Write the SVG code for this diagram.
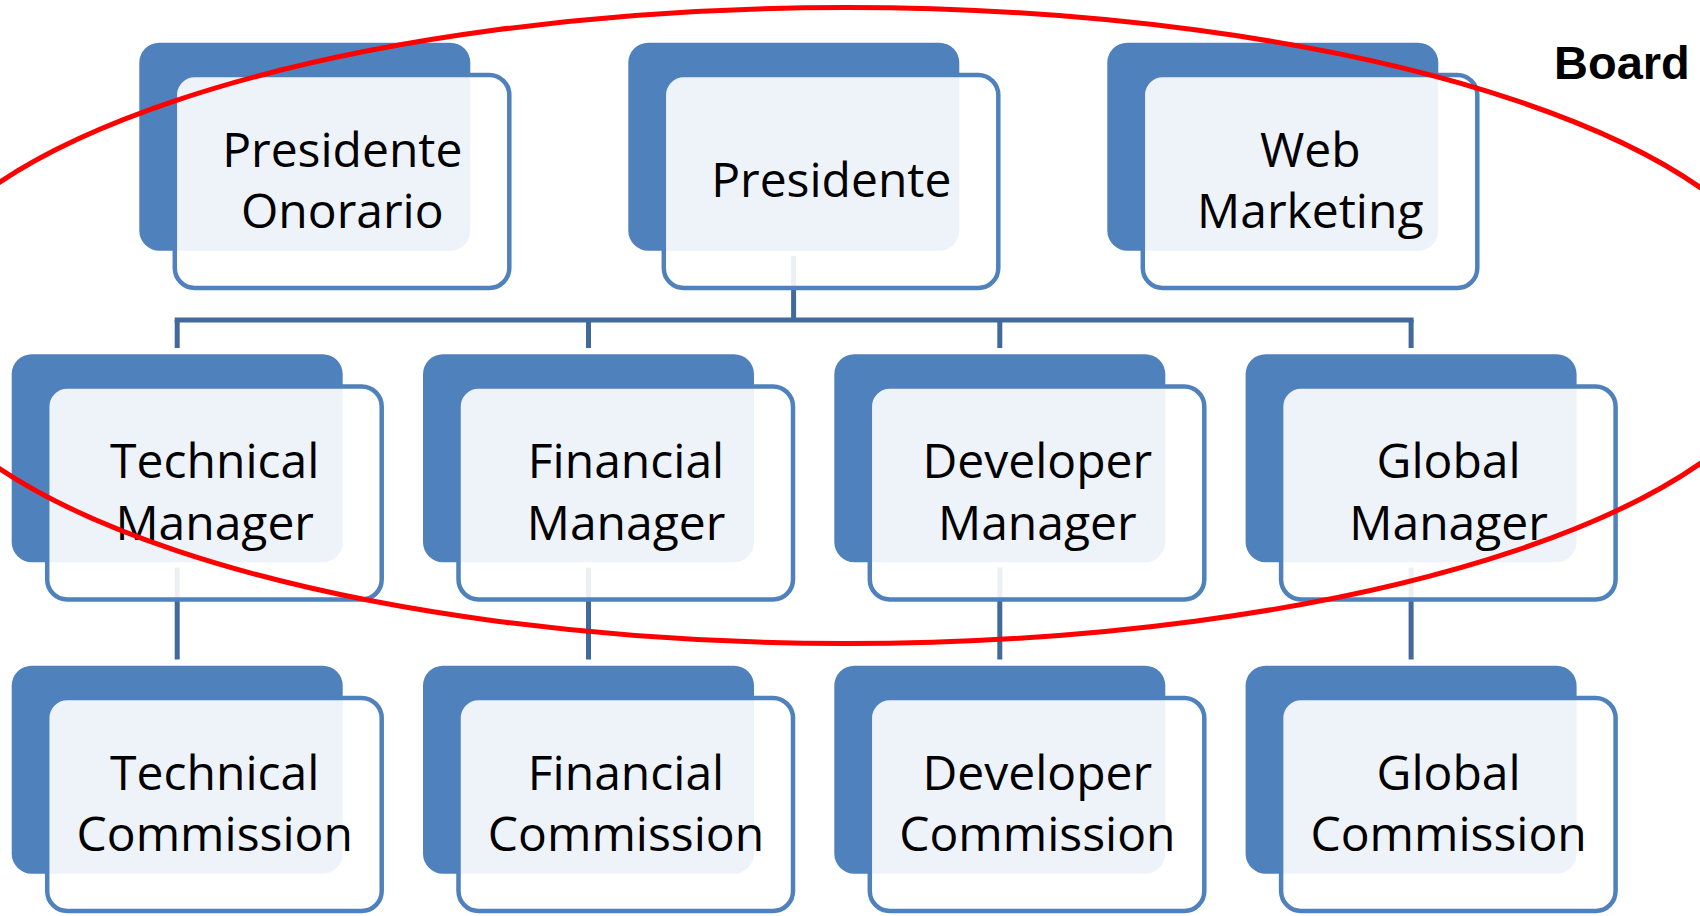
<svg xmlns="http://www.w3.org/2000/svg" width="1700" height="916" viewBox="0 0 1700 916">
<style>
.back{fill:#4F81BD;}
.front{fill:#FFFFFF;fill-opacity:0.9;stroke:#4F81BD;stroke-width:4.5;}
.lbl{font-family:"Open Sans","Noto Sans","Liberation Sans",sans-serif;font-size:48px;fill:#000;text-anchor:middle;}
.conn{stroke:#41699C;stroke-width:5;fill:none;}
.ell{fill:none;stroke:#FF0000;stroke-width:5;}
.board{font-family:"Liberation Sans",Arial,sans-serif;font-weight:bold;font-size:47px;fill:#000;}
</style>
<rect width="1700" height="916" fill="#FFFFFF"/>
<g id="connectors">
<line class="conn" x1="793.6" y1="256" x2="793.6" y2="320"/>
<line class="conn" x1="174.7" y1="320" x2="1413.6" y2="320"/>
<line class="conn" x1="177.2" y1="320" x2="177.2" y2="348"/>
<line class="conn" x1="588.5" y1="320" x2="588.5" y2="348"/>
<line class="conn" x1="999.8" y1="320" x2="999.8" y2="348"/>
<line class="conn" x1="1411.1" y1="320" x2="1411.1" y2="348"/>
<line class="conn" x1="177.2" y1="567.5" x2="177.2" y2="659.5"/>
<line class="conn" x1="588.5" y1="567.5" x2="588.5" y2="659.5"/>
<line class="conn" x1="999.8" y1="567.5" x2="999.8" y2="659.5"/>
<line class="conn" x1="1411.1" y1="567.5" x2="1411.1" y2="659.5"/>
</g>
<g id="presidente-onorario" transform="translate(139.3,42.7)">
<rect class="back" x="0" y="0" width="331" height="208" rx="20"/>
<rect class="front" x="35.5" y="32.3" width="334.5" height="213" rx="20"/>
<text class="lbl" x="203" y="124">Presidente</text>
<text class="lbl" x="203" y="185.5">Onorario</text>
</g>
<g id="presidente" transform="translate(628.3,42.7)">
<rect class="back" x="0" y="0" width="331" height="208" rx="20"/>
<rect class="front" x="35.5" y="32.3" width="334.5" height="213" rx="20"/>
<text class="lbl" x="203" y="154">Presidente</text>
</g>
<g id="web-marketing" transform="translate(1107.3,42.7)">
<rect class="back" x="0" y="0" width="331" height="208" rx="20"/>
<rect class="front" x="35.5" y="32.3" width="334.5" height="213" rx="20"/>
<text class="lbl" x="203" y="124">Web</text>
<text class="lbl" x="203" y="185.5">Marketing</text>
</g>
<g id="technical-manager" transform="translate(11.7,354.2)">
<rect class="back" x="0" y="0" width="331" height="208" rx="20"/>
<rect class="front" x="35.5" y="32.3" width="334.5" height="213" rx="20"/>
<text class="lbl" x="203" y="124">Technical</text>
<text class="lbl" x="203" y="185.5">Manager</text>
</g>
<g id="financial-manager" transform="translate(423,354.2)">
<rect class="back" x="0" y="0" width="331" height="208" rx="20"/>
<rect class="front" x="35.5" y="32.3" width="334.5" height="213" rx="20"/>
<text class="lbl" x="203" y="124">Financial</text>
<text class="lbl" x="203" y="185.5">Manager</text>
</g>
<g id="developer-manager" transform="translate(834.3,354.2)">
<rect class="back" x="0" y="0" width="331" height="208" rx="20"/>
<rect class="front" x="35.5" y="32.3" width="334.5" height="213" rx="20"/>
<text class="lbl" x="203" y="124">Developer</text>
<text class="lbl" x="203" y="185.5">Manager</text>
</g>
<g id="global-manager" transform="translate(1245.6,354.2)">
<rect class="back" x="0" y="0" width="331" height="208" rx="20"/>
<rect class="front" x="35.5" y="32.3" width="334.5" height="213" rx="20"/>
<text class="lbl" x="203" y="124">Global</text>
<text class="lbl" x="203" y="185.5">Manager</text>
</g>
<g id="technical-commission" transform="translate(11.7,665.7)">
<rect class="back" x="0" y="0" width="331" height="208" rx="20"/>
<rect class="front" x="35.5" y="32.3" width="334.5" height="213" rx="20"/>
<text class="lbl" x="203" y="124">Technical</text>
<text class="lbl" x="203" y="185.5">Commission</text>
</g>
<g id="financial-commission" transform="translate(423,665.7)">
<rect class="back" x="0" y="0" width="331" height="208" rx="20"/>
<rect class="front" x="35.5" y="32.3" width="334.5" height="213" rx="20"/>
<text class="lbl" x="203" y="124">Financial</text>
<text class="lbl" x="203" y="185.5">Commission</text>
</g>
<g id="developer-commission" transform="translate(834.3,665.7)">
<rect class="back" x="0" y="0" width="331" height="208" rx="20"/>
<rect class="front" x="35.5" y="32.3" width="334.5" height="213" rx="20"/>
<text class="lbl" x="203" y="124">Developer</text>
<text class="lbl" x="203" y="185.5">Commission</text>
</g>
<g id="global-commission" transform="translate(1245.6,665.7)">
<rect class="back" x="0" y="0" width="331" height="208" rx="20"/>
<rect class="front" x="35.5" y="32.3" width="334.5" height="213" rx="20"/>
<text class="lbl" x="203" y="124">Global</text>
<text class="lbl" x="203" y="185.5">Commission</text>
</g>
<g id="board-ellipse">
<ellipse class="ell" cx="846" cy="325.5" rx="948" ry="318"/>
</g>
<g id="board-label">
<text class="board" x="1554" y="79">Board</text>
</g>
</svg>
